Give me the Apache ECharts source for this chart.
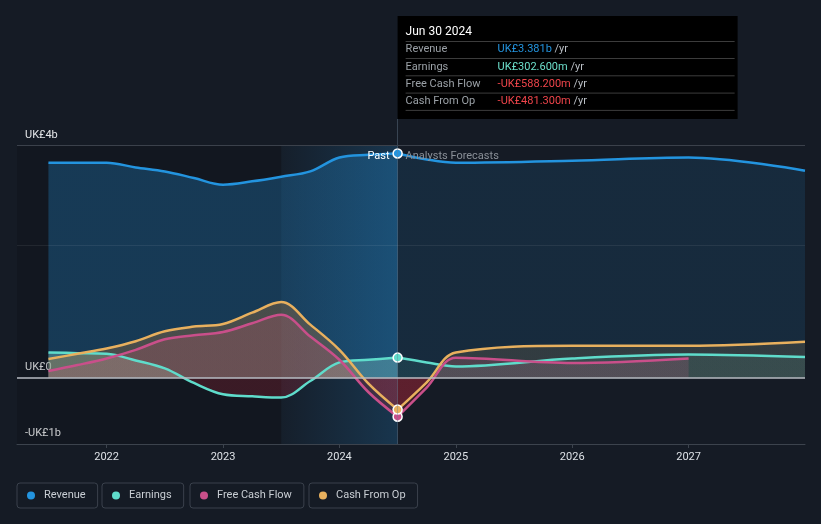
<!DOCTYPE html>
<html><head><meta charset="utf-8">
<script src="https://cdn.jsdelivr.net/npm/echarts@6/dist/echarts.min.js"></script>
<style>html,body{margin:0;padding:0;background:#151b25;}#c{width:821px;height:524px;}</style>
</head><body><div id="c"></div>
<script>
// ---- data (values in UK£ billions) ----
const pastYears = [2021.5, 2021.75, 2022.0, 2022.25, 2022.5, 2022.75, 2023.0, 2023.25, 2023.5, 2023.75, 2024.0, 2024.25, 2024.5];
const forecastYears = [2024.5, 2024.75, 2025.0, 2026.0, 2027.0, 2028.0];
const fcfForecastYears = [2024.5, 2024.75, 2025.0, 2026.0, 2027.0];
const revenuePast = [3.24, 3.24, 3.24, 3.17, 3.11, 3.01, 2.91, 2.96, 3.03, 3.11, 3.32, 3.36, 3.381];
const revenueForecast = [3.381, 3.29, 3.24, 3.27, 3.32, 3.12];
const earningsPast = [0.38, 0.37, 0.36, 0.26, 0.14, -0.08, -0.25, -0.28, -0.30, -0.05, 0.23, 0.27, 0.3026];
const earningsForecast = [0.3026, 0.23, 0.17, 0.29, 0.35, 0.31];
const fcfPast = [0.10, 0.19, 0.29, 0.42, 0.58, 0.64, 0.69, 0.82, 0.95, 0.62, 0.27, -0.22, -0.5882];
const fcfForecast = [-0.5882, -0.15, 0.30, 0.22, 0.29];
const cfoPast = [0.28, 0.36, 0.44, 0.55, 0.70, 0.77, 0.81, 0.98, 1.14, 0.80, 0.42, -0.09, -0.4813];
const cfoForecast = [-0.4813, -0.07, 0.38, 0.48, 0.48, 0.54];
const yearTicks = [2022, 2023, 2024, 2025, 2026, 2027];
const yTicks = [-1, 0, 3.5];
const gridLines = [3.5, 2, 0];
const seriesNames = ['Revenue', 'Earnings', 'Free Cash Flow', 'Cash From Op'];
const seriesColors = ['#2394df', '#5fdccb', '#c94f8a', '#e8b05e'];
const tipDate = 'Jun 30 2024';
const tipLabels = ['Revenue', 'Earnings', 'Free Cash Flow', 'Cash From Op'];
const tipValues = ['UK£3.381b', 'UK£302.600m', '-UK£588.200m', '-UK£481.300m'];
const tipColors = ['#2394df', '#6de0cc', '#f0454b', '#f0454b'];
const splitYear = 2024.5, bandStart = 2023.5;

const chart = echarts.init(document.getElementById('c'), null, {renderer: 'canvas'});
const X_MIN = 2021.23, X_MAX = 2028, Y_MIN = -1, Y_MAX = 3.9;

function fill(pos, neg, m) {
  if (!m) return pos;
  const f = (m.zero - m.top) / (m.bottom - m.top);
  return new echarts.graphic.LinearGradient(0, m.top, 0, m.bottom, [
    {offset: 0, color: pos}, {offset: f, color: pos},
    {offset: f, color: neg}, {offset: 1, color: neg}
  ], true);
}

function mkSeries(i, years, vals, area, dot, z) {
  const color = seriesColors[i];
  return {
    type: 'line', name: seriesNames[i], z: z, silent: true,
    symbol: 'none', smooth: 0.35,
    emphasis: {disabled: true},
    lineStyle: {color: color, width: 2.5},
    itemStyle: {color: color},
    areaStyle: {color: area, opacity: 1},
    data: years.map((y, k) => {
      const d = {value: [y, vals[k]]};
      if (dot && k === 0) {
        d.symbol = 'circle'; d.symbolSize = 9;
        d.itemStyle = {color: color, borderColor: '#ffffff', borderWidth: 1.5};
      }
      return d;
    })
  };
}

function build(m) {
  const neg = 'rgba(220,40,60,0.2)';
  const series = [
    {type: 'line', data: [], z: 1, silent: true,
     markArea: {silent: true, data: [
       [{coord: [X_MIN, Y_MIN], itemStyle: {color: 'rgba(0,0,0,0.13)'}}, {coord: [bandStart, 3.5]}],
       [{coord: [bandStart, Y_MIN], itemStyle: {color: new echarts.graphic.LinearGradient(0, 0, 1, 0, [
          {offset: 0, color: 'rgba(35,148,223,0.03)'}, {offset: 1, color: 'rgba(35,148,223,0.22)'}])}},
        {coord: [splitYear, 3.5]}]
     ]},
     markLine: {silent: true, symbol: ['none', 'none'], label: {show: false},
       data: [{xAxis: splitYear, lineStyle: {color: 'rgba(110,130,150,0.4)', width: 1, type: 'solid'}}]}
    },
    mkSeries(0, pastYears, revenuePast, fill('rgba(35,148,223,0.28)', 'rgba(0,0,0,0)', m), false, 2),
    mkSeries(1, pastYears, earningsPast, fill('rgba(150,230,220,0.3)', neg, m), false, 2),
    mkSeries(2, pastYears, fcfPast, fill('rgba(201,79,138,0.25)', neg, m), false, 2),
    mkSeries(3, pastYears, cfoPast, fill('rgba(190,120,50,0.3)', neg, m), false, 2),
    mkSeries(0, forecastYears, revenueForecast, fill('rgba(35,148,223,0.13)', 'rgba(0,0,0,0)', m), true, 3),
    mkSeries(1, forecastYears, earningsForecast, fill('rgba(88,217,201,0.1)', neg, m), true, 3),
    mkSeries(2, fcfForecastYears, fcfForecast, fill('rgba(201,79,138,0.18)', neg, m), true, 3),
    mkSeries(3, forecastYears, cfoForecast, fill('rgba(232,176,90,0.13)', neg, m), true, 3),
    {type: 'line', data: [], z: 4, silent: true,
     markLine: {silent: true, symbol: ['none', 'none'], label: {show: false},
       data: [
         {yAxis: gridLines[0], lineStyle: {color: '#3b414b', width: 1, type: 'solid'}},
         {yAxis: gridLines[1], lineStyle: {color: 'rgba(255,255,255,0.07)', width: 1, type: 'solid'}},
         {yAxis: gridLines[2], lineStyle: {color: '#b9bdc3', width: 1.5, type: 'solid'}}
       ]}
    }
  ];
  const legendLefts = [17, 102, 190, 309];
  const legend = seriesNames.map((n, i) => ({
    data: [n], left: legendLefts[i], top: 483, icon: 'circle', itemWidth: 8, itemHeight: 8,
    padding: [7, 12, 7, 10], borderColor: '#3a414c', borderWidth: 1, borderRadius: 3,
    selectedMode: false,
    textStyle: {color: '#c9ced4', fontSize: 11, fontFamily: 'Roboto', padding: [0, 0, 0, 4]}
  }));
  const graphic = [];
  if (m) {
    const x0 = m.split;
    graphic.push({type: 'rect', left: x0, top: 16, silent: true, z: 100,
      shape: {x: 0, y: 0, width: 340, height: 103}, style: {fill: '#000000'}});
    graphic.push({type: 'text', x: x0 + 8, y: 31.5, z: 101, silent: true,
      style: {text: tipDate, fill: '#ffffff', font: '12px Roboto', verticalAlign: 'middle'}});
    graphic.push({type: 'line', z: 101, silent: true, shape: {x1: x0 + 8, y1: 41.5, x2: x0 + 337, y2: 41.5},
      style: {stroke: '#3c3c3c', lineWidth: 1}});
    tipLabels.forEach((lab, i) => {
      const cy = 49.5 + i * 17.3;
      graphic.push({type: 'text', x: x0 + 8, y: cy, z: 101, silent: true,
        style: {text: lab, fill: '#9ba1a7', font: '11px Roboto', verticalAlign: 'middle'}});
      graphic.push({type: 'text', x: x0 + 100, y: cy, z: 101, silent: true,
        style: {text: '{v|' + tipValues[i] + '}{u| /yr}', verticalAlign: 'middle', font: '11px Roboto',
          rich: {v: {fill: tipColors[i], font: '11px Roboto'}, u: {fill: '#b9bec4', font: '11px Roboto'}}}});
      graphic.push({type: 'line', z: 101, silent: true,
        shape: {x1: x0 + 8, y1: cy + 9, x2: x0 + 337, y2: cy + 9},
        style: {stroke: '#3c3c3c', lineWidth: 1}});
    });
    graphic.push({type: 'text', x: m.split - 8, y: m.line35 + 11, z: 50, silent: true,
      style: {text: 'Past', fill: '#ffffff', font: '11px Roboto', align: 'right', verticalAlign: 'middle'}});
    graphic.push({type: 'text', x: m.split + 8, y: m.line35 + 11, z: 50, silent: true,
      style: {text: 'Analysts Forecasts', fill: '#8a9098', font: '11px Roboto', align: 'left', verticalAlign: 'middle'}});
  }
  return {
    animation: false,
    backgroundColor: '#151b25',
    textStyle: {fontFamily: 'Roboto'},
    grid: {left: 17, right: 16, top: 119, bottom: 80},
    legend: legend,
    graphic: graphic,
    xAxis: {
      type: 'value', min: X_MIN, max: X_MAX,
      axisLine: {show: true, onZero: false, lineStyle: {color: '#3c434d', width: 1}},
      axisTick: {show: true, customValues: yearTicks, length: 4, lineStyle: {color: '#3c434d'}},
      axisLabel: {customValues: yearTicks, color: '#dde1e6', fontSize: 11, margin: 8, formatter: v => String(v)},
      splitLine: {show: false}
    },
    yAxis: {
      type: 'value', min: Y_MIN, max: Y_MAX,
      axisLine: {show: false}, axisTick: {show: false}, splitLine: {show: false},
      axisLabel: {
        customValues: yTicks, inside: true, verticalAlign: 'bottom', margin: 8,
        color: '#e4e6e9', fontSize: 11, padding: [0, 0, 5, 0],
        formatter: v => v === 0 ? 'UK£0' : (v < 0 ? '-UK£' + Math.abs(v) + 'b' : 'UK£' + Math.round(v) + 'b')
      }
    },
    series: series
  };
}

chart.setOption(build(null));
const m = {
  top: chart.convertToPixel({yAxisIndex: 0}, Y_MAX),
  bottom: chart.convertToPixel({yAxisIndex: 0}, Y_MIN),
  zero: chart.convertToPixel({yAxisIndex: 0}, 0),
  line35: chart.convertToPixel({yAxisIndex: 0}, 3.5),
  split: chart.convertToPixel({xAxisIndex: 0}, splitYear)
};
chart.setOption(build(m), true);
</script></body></html>
